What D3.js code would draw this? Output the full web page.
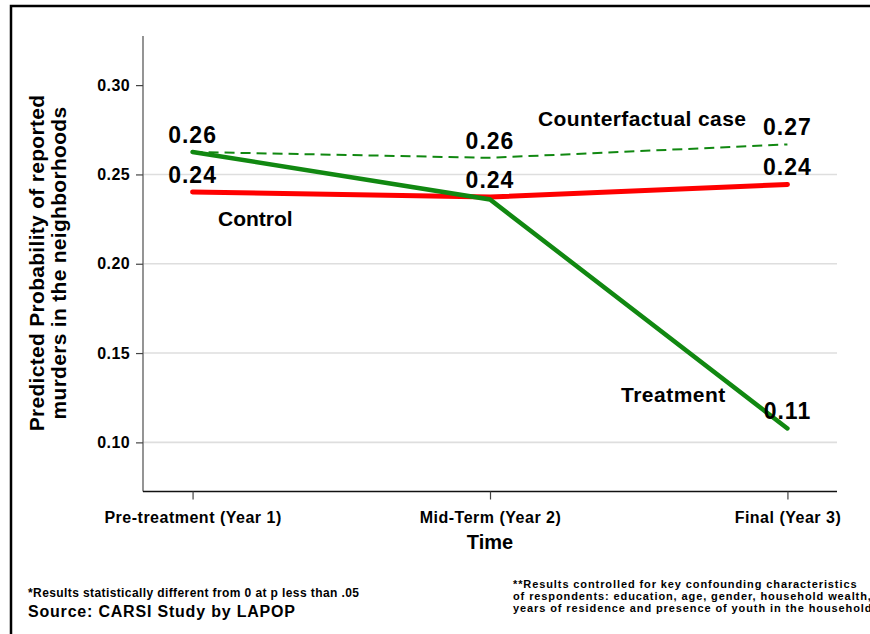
<!DOCTYPE html>
<html>
<head>
<meta charset="utf-8">
<script src="https://cdn.jsdelivr.net/npm/d3@7"></script>
<style>
  html, body { margin: 0; padding: 0; background: #fff; }
  svg { display: block; }
  text { font-family: "Liberation Sans", Arial, Helvetica, sans-serif; font-weight: bold; fill: #000; }
</style>
</head>
<body>
<svg id="chart" width="870" height="634"></svg>
<script>
// ---- data ----
const categories = ["Pre-treatment (Year 1)", "Mid-Term (Year 2)", "Final (Year 3)"];
const treatment = [0.2626, 0.2360, 0.1078];
const control = [0.2402, 0.2373, 0.2444];
const counterfactual = [0.2626, 0.2593, 0.2668];
const yTicks = [0.10, 0.15, 0.20, 0.25, 0.30];
const gridTicks = [0.10, 0.15, 0.20, 0.25];
// value labels: [category index, text]
const treatmentLabels = [[0, "0.26"], [2, "0.11"]];
const controlLabels = [[0, "0.24"], [1, "0.24"], [2, "0.24"]];
const counterfactualLabels = [[1, "0.26"], [2, "0.27"]];
const yTitle = ["Predicted Probability of reported", "murders in the neighborhoods"];
const xTitle = "Time";
const noteLeft = "*Results statistically different from 0 at p less than .05";
const source = "Source: CARSI Study by LAPOP";
const noteRight = ["**Results controlled for key confounding characteristics",
  "of respondents: education, age, gender, household wealth,",
  "years of residence and presence of youth in the household"];

// ---- layout ----
const svg = d3.select("#chart");
const mLeft = 143, mRight = 837, mTop = 36, mBottom = 491.5;
const x = d3.scalePoint().domain(categories).range([mLeft, mRight]).padding(1 / 6);
const y = d3.scaleLinear().domain([0.0725, 0.3275]).range([mBottom, mTop]);

// frame
svg.append("rect").attr("x", 11).attr("y", 6).attr("width", 900).attr("height", 700)
  .attr("fill", "none").attr("stroke", "#000").attr("stroke-width", 2.5);

// gridlines
svg.append("g").selectAll("line").data(gridTicks).join("line")
  .attr("x1", mLeft).attr("x2", mRight)
  .attr("y1", d => y(d)).attr("y2", d => y(d))
  .attr("stroke", "#dedede").attr("stroke-width", 1.6);

// y axis
const yAxis = svg.append("g").attr("transform", `translate(${mLeft},0)`)
  .call(d3.axisLeft(y).tickValues(yTicks).tickFormat(d3.format(".2f")).tickSize(7).tickPadding(6));
yAxis.select(".domain").attr("stroke", "#7a7a7a").attr("stroke-width", 1.6)
  .attr("d", `M0,${mTop}V${mBottom}`);
yAxis.selectAll(".tick line").attr("stroke", "#444").attr("stroke-width", 1.2);
yAxis.selectAll(".tick text").style("font-size", "16px").style("font-weight", "bold")
  .style("letter-spacing", "0.4px")
  .style("font-family", "'Liberation Sans', Arial, sans-serif").attr("fill", "#000");

// x axis
const xAxis = svg.append("g").attr("transform", `translate(0,${mBottom})`)
  .call(d3.axisBottom(x).tickSize(8).tickPadding(12));
xAxis.select(".domain").attr("stroke", "#111").attr("stroke-width", 1.6)
  .attr("d", `M${mLeft},0H${mRight}`);
xAxis.selectAll(".tick line").attr("stroke", "#444").attr("stroke-width", 1.2);
xAxis.selectAll(".tick text").style("font-size", "16px").style("font-weight", "bold")
  .style("letter-spacing", "0.5px")
  .style("font-family", "'Liberation Sans', Arial, sans-serif").attr("fill", "#000");

// lines
const line = d3.line().x((d, i) => x(categories[i])).y(d => y(d));
svg.append("path").datum(counterfactual).attr("d", line)
  .attr("fill", "none").attr("stroke", "#118811").attr("stroke-width", 2)
  .attr("stroke-dasharray", "10,6");
svg.append("path").datum(control).attr("d", line)
  .attr("fill", "none").attr("stroke", "#ff0000").attr("stroke-width", 5).attr("stroke-linecap", "round");
svg.append("path").datum(treatment).attr("d", line)
  .attr("fill", "none").attr("stroke", "#118811").attr("stroke-width", 4.5).attr("stroke-linecap", "round");

// value labels
function addLabels(series, labels) {
  svg.append("g").selectAll("text").data(labels).join("text")
    .attr("x", d => x(categories[d[0]]))
    .attr("y", d => y(series[d[0]]) - 9)
    .attr("text-anchor", "middle")
    .style("font-size", "23px").style("letter-spacing", "1px")
    .text(d => d[1]);
}
addLabels(treatment, treatmentLabels);
addLabels(control, controlLabels);
addLabels(counterfactual, counterfactualLabels);

// series annotations
svg.append("text").attr("x", 538).attr("y", 126).style("font-size", "21px").style("letter-spacing", "0.4px").text("Counterfactual case");
svg.append("text").attr("x", 218).attr("y", 226).style("font-size", "21px").text("Control");
svg.append("text").attr("x", 621).attr("y", 402).style("font-size", "21px").style("letter-spacing", "0.5px").text("Treatment");

// axis titles
const yt = svg.append("text").attr("transform", "translate(44,263) rotate(-90)")
  .attr("text-anchor", "middle").style("font-size", "21px").style("letter-spacing", "0.3px");
yt.append("tspan").attr("x", 0).attr("dy", 0).text(yTitle[0]);
yt.append("tspan").attr("x", 0).attr("dy", 22).text(yTitle[1]);
svg.append("text").attr("x", (mLeft + mRight) / 2).attr("y", 549).attr("text-anchor", "middle")
  .style("font-size", "20px").text(xTitle);

// footnotes
svg.append("text").attr("x", 28).attr("y", 597).style("font-size", "12px").style("letter-spacing", "0.4px").text(noteLeft);
svg.append("text").attr("x", 28).attr("y", 617).style("font-size", "16px").style("letter-spacing", "0.8px").text(source);
svg.append("g").selectAll("text").data(noteRight).join("text")
  .attr("x", 513).attr("y", (d, i) => 588 + i * 12)
  .style("font-size", "11px").style("letter-spacing", "0.9px").text(d => d);
</script>
</body>
</html>
